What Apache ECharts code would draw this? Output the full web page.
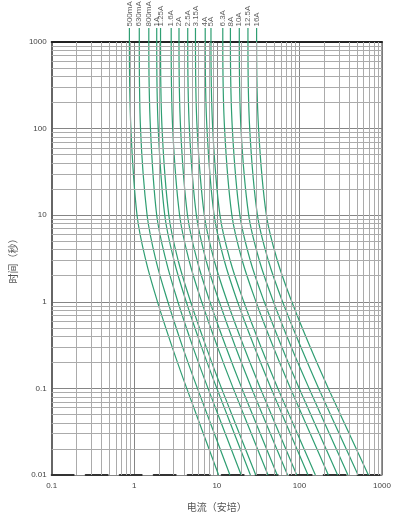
<!DOCTYPE html>
<html><head><meta charset="utf-8">
<script src="https://cdn.jsdelivr.net/npm/echarts@6/dist/echarts.min.js"></script>
<style>html,body{margin:0;padding:0;background:#fff}#c{width:395px;height:517px}</style>
</head><body><div id="c"></div>
<script>
// Fuse ratings (curve labels), left to right
const ratings = ['500mA','630mA','800mA','1A','1.25A','1.6A','2A','2.5A','3.15A','4A','5A','6.3A','8A','10A','12.5A','16A'];
// Pre-arcing time points (s) at which currents were read
const times = [1000, 100, 10, 3, 1, 0.3, 0.1, 0.01];
// Current (A) for each curve at the time points above
const c500mA = [0.873, 0.910, 1.08, 1.38, 1.91, 2.88, 4.32, 10.5];
const c630mA = [1.15, 1.19, 1.43, 1.83, 2.55, 3.85, 5.82, 14.4];
const c800mA = [1.50, 1.57, 1.87, 2.42, 3.37, 5.14, 7.82, 19.7];
const c1A    = [1.87, 1.95, 2.34, 3.03, 4.26, 6.53, 10.0, 25.5];
const c1_25A = [2.08, 2.17, 2.62, 3.40, 4.81, 7.43, 11.4, 29.6];
const c1_6A  = [2.80, 2.92, 3.54, 4.61, 6.55, 10.2, 15.8, 41.6];
const c2A    = [3.48, 3.64, 4.41, 5.77, 8.24, 12.9, 20.1, 53.8];
const c2_5A  = [4.44, 4.65, 5.65, 7.41, 10.7, 16.8, 26.4, 71.8];
const c3_15A = [5.51, 5.77, 7.05, 9.29, 13.4, 21.3, 33.7, 92.7];
const c4A    = [7.23, 7.59, 9.27, 12.3, 17.8, 28.5, 45.4, 127];
const c5A    = [8.49, 8.91, 10.9, 14.5, 21.2, 34.2, 54.8, 156];
const c6_3A  = [11.8, 12.4, 15.2, 20.3, 29.8, 48.3, 78.0, 224];
const c8A    = [14.6, 15.4, 19.0, 25.4, 37.5, 61.2, 99.5, 290];
const c10A   = [18.7, 19.6, 24.3, 32.7, 48.5, 79.6, 131, 387];
const c12_5A = [23.8, 25.0, 31.0, 42.0, 62.5, 104, 171, 513];
const c16A   = [30.3, 32.0, 39.8, 54.0, 80.9, 135, 224, 684];
const currents = [c500mA,c630mA,c800mA,c1A,c1_25A,c1_6A,c2A,c2_5A,c3_15A,c4A,c5A,c6_3A,c8A,c10A,c12_5A,c16A];
// Label leader end (above the 1000 s border)
const leaderTime = 1450;
// Log grid lines between decades
const xMinor = [0.2,0.3,0.4,0.5,0.6,0.7,0.8,0.9,2,3,4,5,6,7,8,9,20,30,40,50,60,70,80,90,200,300,400,500,600,700,800,900];
const yMinor = [0.02,0.03,0.04,0.05,0.06,0.07,0.08,0.09,0.2,0.3,0.4,0.5,0.6,0.7,0.8,0.9,2,3,4,5,6,7,8,9,20,30,40,50,60,70,80,90,200,300,400,500,600,700,800,900];

const chart = echarts.init(document.getElementById('c'), null, {renderer:'canvas'});
const fmt = v => {
  const m = {0.01:'0.01',0.1:'0.1',1:'1',10:'10',100:'100',1000:'1000'};
  for (const k in m) if (Math.abs(v - Number(k)) / Number(k) < 1e-6) return m[k];
  return '';
};
const green = '#2f9e72';
const series = [];
series.push({
  type: 'line', data: [], silent: true, z: 1, animation: false,
  markLine: {
    silent: true, symbol: 'none', animation: false,
    label: {show: false},
    lineStyle: {color: '#ababab', width: 1, type: 'solid'},
    data: xMinor.map(v => ({xAxis: v})).concat(yMinor.map(v => ({yAxis: v})))
  }
});
currents.forEach((arr, i) => {
  const data = [[arr[0], leaderTime]].concat(arr.map((c, j) => [c, times[j]]));
  series.push({
    type: 'line', name: ratings[i], data: data, smooth: 0.35,
    clip: false, showSymbol: false, symbol: 'none', z: 3, animation: false,
    lineStyle: {color: green, width: 1.2}
  });
});
series.push({
  type: 'scatter', clip: false, silent: true, z: 4, animation: false,
  symbol: 'circle', symbolSize: 1, itemStyle: {color: 'rgba(0,0,0,0)'},
  data: currents.map((arr, i) => ({value: [arr[0], leaderTime], name: ratings[i]})),
  label: {
    show: true, formatter: p => p.name, rotate: 90, position: 'top',
    distance: 1, align: 'left', verticalAlign: 'middle',
    fontSize: 8, color: '#333', fontFamily: 'Liberation Sans, Arial, sans-serif'
  },
  labelLayout: {hideOverlap: false}
});

chart.setOption({
  backgroundColor: '#fff',
  animation: false,
  grid: {left: 42, right: 13, top: 42, bottom: 39},
  xAxis: [{
    type: 'log', logBase: 10, min: 0.1, max: 1000,
    name: '电流（安培）', nameLocation: 'middle', nameGap: 27,
    nameTextStyle: {fontSize: 10, color: '#555', fontFamily: 'Noto Sans CJK SC'},
    axisLine: {show: true, lineStyle: {color: '#333', width: 2, type: [22, 12]}},
    axisTick: {show: false},
    axisLabel: {fontSize: 8, color: '#444', margin: 7, formatter: fmt, fontFamily: 'Liberation Sans, Arial, sans-serif'},
    splitLine: {show: true, lineStyle: {color: '#858585', width: 1}}
  }, {
    type: 'log', logBase: 10, min: 0.1, max: 1000, position: 'top',
    axisLine: {show: true, lineStyle: {color: '#222', width: 2}},
    axisTick: {show: false}, axisLabel: {show: false}, splitLine: {show: false}
  }],
  yAxis: [{
    type: 'log', logBase: 10, min: 0.01, max: 1000,
    name: '时间（秒）', nameLocation: 'middle', nameGap: 22, nameRotate: 90,
    nameTextStyle: {fontSize: 10, color: '#555', fontFamily: 'Noto Sans CJK SC'},
    axisLine: {show: true, lineStyle: {color: '#666', width: 2}},
    axisTick: {show: false},
    axisLabel: {fontSize: 8, color: '#444', margin: 5, formatter: fmt, fontFamily: 'Liberation Sans, Arial, sans-serif'},
    splitLine: {show: true, lineStyle: {color: '#858585', width: 1}}
  }, {
    type: 'log', logBase: 10, min: 0.01, max: 1000, position: 'right',
    axisLine: {show: true, lineStyle: {color: '#777', width: 1.5}},
    axisTick: {show: false}, axisLabel: {show: false}, splitLine: {show: false}
  }],
  series: series
});
</script>
</body></html>
